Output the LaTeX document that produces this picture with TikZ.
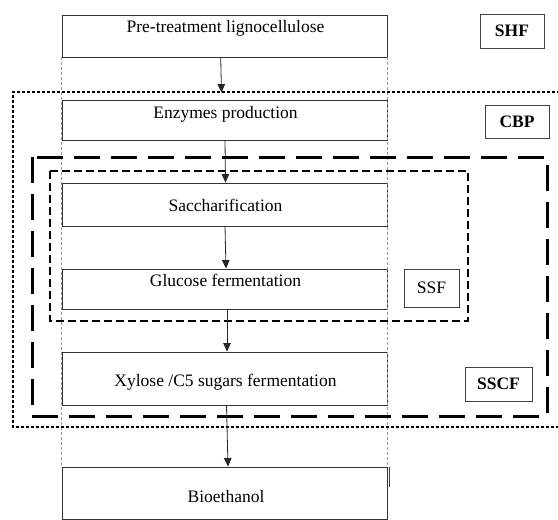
\documentclass[tikz,border=0pt]{standalone}
\usepackage{fontspec}
\setmainfont{Liberation Serif}
\usetikzlibrary{arrows.meta}
\begin{document}
\begin{tikzpicture}[x=1pt,y=-1pt,
  font=\fontsize{17.5}{20}\selectfont,
  procbox/.style={draw=black!80, line width=0.9pt, minimum width=325pt, inner sep=0pt},
  steptext/.style={anchor=base, inner sep=0pt},
  tagbox/.style={draw=black!75, line width=0.9pt, inner sep=0pt},
  flow/.style={draw=black!85, line width=0.8pt, -{Triangle[length=8.5pt,width=7.5pt]}},
  guide/.style={draw=black!40, line width=0.5pt, dash pattern=on 3pt off 2pt},
  cbpframe/.style={line width=2.8pt, dash pattern=on 2.6pt off 2.4pt},
  sscfframe/.style={line width=3pt, dash pattern=on 26pt off 11pt},
  ssfframe/.style={line width=2.6pt, dash pattern=on 8pt off 4pt}
]
\useasboundingbox (0,0) rectangle (558,520);

% process steps
\node[procbox, minimum height=42pt] (b1) at (224.5,36) {};
\node[procbox, minimum height=40pt] (b2) at (224.5,120) {};
\node[procbox, minimum height=43pt] (b3) at (224.5,204.5) {};
\node[procbox, minimum height=40pt] (b4) at (224.5,289) {};
\node[procbox, minimum height=53pt] (b5) at (224.5,378.5) {};
\node[procbox, minimum height=52pt] (b6) at (224.5,493) {};

\node[steptext] (t1) at (225.5,32) {Pre-treatment lignocellulose};
\node[steptext] (t2) at (225.5,118) {Enzymes production};
\node[steptext] (t3) at (225.5,211.5) {Saccharification};
\node[steptext] (t4) at (225.5,286.5) {Glucose fermentation};
\node[steptext] (t5) at (225.5,386.5) {Xylose /C5 sugars fermentation};
\node[steptext] (t6) at (226,502.5) {Bioethanol};

% column guides
\draw[guide] (b1.south west) -- (b6.north west);
\draw[guide] (b1.south east) -- (b6.north east);
\draw[line width=1.3pt, black!75] ([xshift=2pt]b6.north east) -- ++(0,20);

% process groupings
\draw[cbpframe] (580,92) -- (13,92) -- (13,427) -- (580,427);
\draw[sscfframe] (32,157) rectangle (547,416);
\draw[ssfframe] (50,171) rectangle (468,321);

% flow arrows
\draw[flow] ([xshift=-3.8pt]b1.south) -- ([xshift=-3pt,yshift=7pt]b2.north);
\draw[flow] ([xshift=0.5pt]b2.south) -- ([xshift=1pt]b3.north);
\draw[flow] ([xshift=0.5pt]b3.south) -- ([xshift=1.5pt]b4.north);
\draw[flow] ([xshift=2.5pt]b4.south) -- ([xshift=2.5pt]b5.north);
\draw[flow] ([xshift=2pt]b5.south) -- ([xshift=3.5pt]b6.north);

% process labels
\node[tagbox, minimum width=64pt, minimum height=34pt, font=\fontsize{17.5}{20}\selectfont\bfseries] (shf) at (512,31) {SHF};
\node[tagbox, minimum width=64pt, minimum height=33pt, font=\fontsize{17.5}{20}\selectfont\bfseries] (cbp) at (517,121.5) {CBP};
\node[tagbox, minimum width=55pt, minimum height=38pt] (ssf) at (431.5,288) {SSF};
\node[tagbox, minimum width=67pt, minimum height=34pt, font=\fontsize{17.5}{20}\selectfont\bfseries] (sscf) at (498.5,384) {SSCF};
\end{tikzpicture}
\end{document}
